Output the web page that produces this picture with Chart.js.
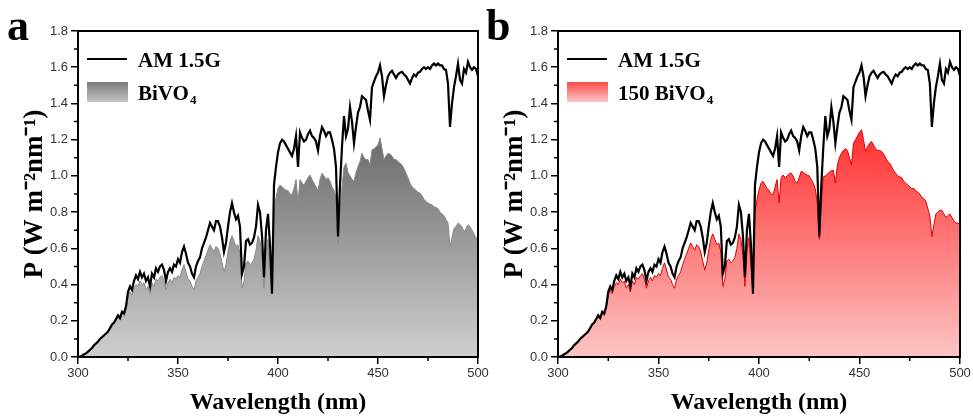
<!DOCTYPE html>
<html lang="en">
  <head>
    <meta charset="UTF-8" />
    <title>AM 1.5G vs BiVO4</title>
    <script src="https://cdn.jsdelivr.net/npm/chart.js"></script>
    <style>
      body { margin: 0; background: #fff; }
      .wrap { position: relative; width: 973px; height: 417px; overflow: hidden; }
      canvas { position: absolute; top: 0; }
      .tag {
        position: absolute;
        font: bold 44px "Liberation Serif", serif;
        color: #000;
        line-height: 1;
      }
    </style>
  </head>
  <body>
    <div class="wrap">
      <canvas id="chartA" width="500" height="417" style="left: 0"></canvas>
      <canvas id="chartB" width="493" height="417" style="left: 480px"></canvas>
      <div class="tag" style="left: 7px; top: 4px">a</div>
      <div class="tag" style="left: 486px; top: 4px">b</div>
    </div>

    <script>
      // wavelength (nm), 1 nm steps
      const wavelength = [];
      for (let w = 300; w <= 500; w++) wavelength.push(w);

      // AM 1.5G spectrum (W m-2 nm-1)
      const am15g = [
        0.00, 0.003, 0.007, 0.015, 0.02, 0.03, 0.04, 0.05, 0.065, 0.075,
        0.086, 0.10, 0.11, 0.12, 0.13, 0.14, 0.16, 0.18, 0.19, 0.21,
        0.23, 0.215, 0.25, 0.24, 0.28, 0.36, 0.39, 0.37, 0.42, 0.45,
        0.43, 0.47, 0.44, 0.46, 0.42, 0.44, 0.39, 0.46, 0.44, 0.49,
        0.47, 0.50, 0.51, 0.48, 0.42, 0.47, 0.49, 0.47, 0.51, 0.50,
        0.54, 0.52, 0.58, 0.61, 0.57, 0.52, 0.50, 0.46, 0.44, 0.50,
        0.53, 0.55, 0.60, 0.63, 0.66, 0.70, 0.74, 0.72, 0.70, 0.75,
        0.75, 0.72, 0.66, 0.58, 0.63, 0.72, 0.80, 0.85, 0.80, 0.76,
        0.78, 0.72, 0.46, 0.50, 0.64, 0.65, 0.62, 0.63, 0.66, 0.72,
        0.84, 0.80, 0.67, 0.44, 0.70, 0.79, 0.62, 0.35, 0.95, 1.05,
        1.13, 1.18, 1.20, 1.19, 1.17, 1.15, 1.13, 1.11, 1.15, 1.22,
        1.05, 1.24, 1.21, 1.19, 1.20, 1.23, 1.25, 1.22, 1.21, 1.19,
        1.14, 1.22, 1.27, 1.25, 1.22, 1.24, 1.24, 1.20, 1.15, 1.05,
        0.665, 0.95, 1.16, 1.33, 1.22, 1.26, 1.38, 1.30, 1.18, 1.27,
        1.35, 1.38, 1.44, 1.43, 1.42, 1.36, 1.31, 1.49, 1.52, 1.55,
        1.57, 1.61, 1.55, 1.44, 1.50, 1.55, 1.57, 1.58, 1.56, 1.54,
        1.56, 1.57, 1.575, 1.56, 1.55, 1.53, 1.51, 1.54, 1.56, 1.55,
        1.57, 1.575, 1.59, 1.60, 1.59, 1.60, 1.59, 1.61, 1.62, 1.61,
        1.62, 1.61, 1.61, 1.59, 1.585, 1.51, 1.27, 1.40, 1.49, 1.55,
        1.62, 1.53, 1.51, 1.59, 1.57, 1.63, 1.60, 1.585, 1.60, 1.59,
        1.55
      ];

      // absorbed by BiVO4 (panel a)
      const bivo4 = [
        0.00, 0.003, 0.007, 0.014, 0.019, 0.028, 0.038, 0.048, 0.062, 0.072,
        0.082, 0.095, 0.105, 0.115, 0.125, 0.135, 0.15, 0.17, 0.18, 0.20,
        0.22, 0.205, 0.235, 0.225, 0.26, 0.33, 0.36, 0.34, 0.38, 0.40,
        0.39, 0.42, 0.40, 0.41, 0.37, 0.39, 0.35, 0.41, 0.39, 0.43,
        0.42, 0.44, 0.45, 0.42, 0.37, 0.41, 0.43, 0.41, 0.44, 0.43,
        0.45, 0.44, 0.48, 0.51, 0.47, 0.43, 0.42, 0.39, 0.37, 0.42,
        0.44, 0.46, 0.50, 0.53, 0.56, 0.59, 0.62, 0.60, 0.58, 0.61,
        0.60, 0.57, 0.52, 0.47, 0.51, 0.58, 0.64, 0.67, 0.64, 0.61,
        0.62, 0.57, 0.38, 0.42, 0.52, 0.53, 0.51, 0.52, 0.54, 0.59,
        0.67, 0.64, 0.55, 0.38, 0.58, 0.65, 0.50, 0.35, 0.80, 0.88,
        0.93, 0.95, 0.94, 0.93, 0.92, 0.92, 0.90, 0.895, 0.93, 0.98,
        0.85, 0.98, 0.96, 0.95, 0.97, 0.99, 1.005, 0.98, 0.96, 0.94,
        0.92, 0.98, 1.015, 1.00, 0.98, 0.99, 0.97, 0.94, 0.92, 0.88,
        0.63, 0.80, 0.94, 1.05, 1.07, 1.02, 1.00, 0.98, 0.97, 1.02,
        1.05, 1.08, 1.125, 1.10, 1.09, 1.09, 1.06, 1.145, 1.15, 1.16,
        1.17, 1.21, 1.15, 1.09, 1.11, 1.125, 1.12, 1.11, 1.09, 1.09,
        1.08, 1.07, 1.06, 1.04, 1.015, 0.99, 0.96, 0.94, 0.93, 0.92,
        0.91, 0.905, 0.89, 0.87, 0.86, 0.85, 0.845, 0.84, 0.83, 0.825,
        0.82, 0.80, 0.79, 0.78, 0.76, 0.74, 0.61, 0.66, 0.71, 0.72,
        0.74, 0.73, 0.72, 0.69, 0.71, 0.73, 0.72, 0.70, 0.68, 0.655,
        0.66
      ];

      // absorbed by 150 BiVO4 (panel b)
      const bivo4_150 = [
        0.00, 0.003, 0.007, 0.015, 0.02, 0.029, 0.039, 0.049, 0.063, 0.073,
        0.084, 0.097, 0.107, 0.117, 0.127, 0.137, 0.155, 0.175, 0.185, 0.205,
        0.225, 0.21, 0.24, 0.23, 0.27, 0.34, 0.37, 0.35, 0.39, 0.41,
        0.40, 0.43, 0.41, 0.42, 0.38, 0.40, 0.36, 0.42, 0.40, 0.44,
        0.43, 0.45, 0.46, 0.43, 0.38, 0.42, 0.44, 0.42, 0.45, 0.44,
        0.46, 0.45, 0.49, 0.52, 0.48, 0.44, 0.43, 0.40, 0.38, 0.43,
        0.45, 0.47, 0.51, 0.54, 0.57, 0.60, 0.63, 0.61, 0.59, 0.62,
        0.61, 0.58, 0.53, 0.48, 0.52, 0.59, 0.65, 0.68, 0.65, 0.62,
        0.63, 0.58, 0.39, 0.43, 0.53, 0.54, 0.52, 0.53, 0.55, 0.60,
        0.68, 0.65, 0.56, 0.39, 0.59, 0.66, 0.51, 0.35, 0.80, 0.87,
        0.92, 0.96, 0.97, 0.95, 0.93, 0.92, 0.90, 0.895, 0.94, 0.98,
        0.85, 0.99, 1.005, 0.99, 1.00, 1.01, 1.015, 1.00, 0.97, 0.96,
        0.99, 1.025, 1.02, 1.01, 1.005, 1.00, 0.98, 0.96, 0.93, 0.85,
        0.65, 0.85, 0.995, 1.00, 1.01, 1.02, 1.03, 1.03, 0.96, 1.06,
        1.10, 1.125, 1.14, 1.15, 1.14, 1.10, 1.06, 1.18, 1.20, 1.22,
        1.24, 1.255, 1.20, 1.135, 1.16, 1.18, 1.19, 1.17, 1.15, 1.14,
        1.14, 1.135, 1.12, 1.10, 1.08, 1.07, 1.05, 1.03, 1.015, 1.00,
        0.995, 0.99, 0.97, 0.96, 0.95, 0.94, 0.93, 0.93, 0.92, 0.91,
        0.90, 0.88, 0.875, 0.86, 0.82, 0.78, 0.665, 0.73, 0.79, 0.80,
        0.81, 0.81, 0.79, 0.77, 0.78, 0.79, 0.77, 0.75, 0.74, 0.74,
        0.73
      ];

      const minorX = [325, 375, 425, 475];
      const minorY = [0.1, 0.3, 0.5, 0.7, 0.9, 1.1, 1.3, 1.5, 1.7];

      const pts = (vals) => wavelength.map((w, i) => ({ x: w, y: vals[i] }));

      // frame, minor ticks and legend
      const framePlugin = {
        id: "frame",
        afterDraw(chart, args, o) {
          const { ctx, chartArea: a, scales } = chart;
          ctx.save();
          ctx.strokeStyle = "#000";
          ctx.lineWidth = 2;
          ctx.strokeRect(a.left, a.top, a.right - a.left, a.bottom - a.top);

          ctx.lineWidth = 1.5;
          ctx.beginPath();
          minorX.forEach((v) => {
            const px = scales.x.getPixelForValue(v);
            ctx.moveTo(px, a.bottom);
            ctx.lineTo(px, a.bottom + 4);
          });
          minorY.forEach((v) => {
            const py = scales.y.getPixelForValue(v);
            ctx.moveTo(a.left, py);
            ctx.lineTo(a.left - 4, py);
          });
          ctx.stroke();

          // legend
          const lx = a.left + 9;
          ctx.lineWidth = 2;
          ctx.beginPath();
          ctx.moveTo(lx, a.top + 28);
          ctx.lineTo(lx + 40, a.top + 28);
          ctx.stroke();

          const g = ctx.createLinearGradient(0, a.top + 51, 0, a.top + 71);
          g.addColorStop(0, o.boxTop);
          g.addColorStop(1, o.boxBottom);
          ctx.fillStyle = g;
          ctx.fillRect(lx, a.top + 51, 41, 20);

          ctx.fillStyle = "#000";
          ctx.textBaseline = "alphabetic";
          ctx.font = 'bold 21px "Liberation Serif", serif';
          ctx.fillText("AM 1.5G", lx + 51, a.top + 36);
          ctx.fillText(o.label, lx + 51, a.top + 69);
          const w = ctx.measureText(o.label).width;
          ctx.font = 'bold 13px "Liberation Serif", serif';
          ctx.fillText("4", lx + 52 + w, a.top + 73);
          ctx.restore();
        },
      };

      function makePanel(id, fillVals, c, rightPad) {
        const fillGradient = (sc) => {
          const chart = sc.chart;
          if (!chart.chartArea) return c.top;
          const y = chart.scales.y;
          const g = chart.ctx.createLinearGradient(0, y.getPixelForValue(1.25), 0, y.getPixelForValue(0));
          g.addColorStop(0, c.top);
          g.addColorStop(1, c.bottom);
          return g;
        };

        new Chart(document.getElementById(id), {
          type: "line",
          data: {
            datasets: [
              {
                label: "AM 1.5G",
                data: pts(am15g),
                borderColor: "#000",
                borderWidth: 2.2,
                pointRadius: 0,
                fill: false,
                tension: 0,
              },
              {
                label: c.label,
                data: pts(fillVals),
                borderColor: c.edge,
                borderWidth: 1,
                pointRadius: 0,
                backgroundColor: fillGradient,
                fill: "origin",
                tension: 0,
              },
            ],
          },
          options: {
            responsive: false,
            animation: false,
            layout: { padding: { top: 31, right: rightPad, left: 0, bottom: 0 } },
            plugins: {
              legend: { display: false },
              tooltip: { enabled: false },
              frame: { boxTop: c.boxTop, boxBottom: c.boxBottom, label: c.label },
            },
            scales: {
              x: {
                type: "linear",
                min: 300,
                max: 500,
                afterFit: (s) => { s.height = 60; },
                ticks: {
                  stepSize: 50,
                  color: "#333",
                  padding: 2,
                  maxRotation: 0,
                  font: { family: "Liberation Sans", size: 13 },
                },
                grid: { drawOnChartArea: false, tickLength: 7, color: "#000", lineWidth: 1.5 },
                border: { color: "#000", width: 2 },
                title: {
                  display: true,
                  text: "Wavelength (nm)",
                  color: "#000",
                  padding: { top: 1, bottom: 0 },
                  font: { family: "Liberation Serif", size: 24, weight: "bold" },
                },
              },
              y: {
                min: 0,
                max: 1.8,
                afterFit: (s) => { s.width = 78; },
                ticks: {
                  stepSize: 0.2,
                  color: "#333",
                  padding: 3,
                  font: { family: "Liberation Sans", size: 13 },
                  callback: (v) => v.toFixed(1),
                },
                grid: { drawOnChartArea: false, tickLength: 7, color: "#000", lineWidth: 1.5 },
                border: { color: "#000", width: 2 },
                title: {
                  display: true,
                  text: "P (W m⁻²nm⁻¹)",
                  color: "#000",
                  padding: { top: 19, bottom: 0 },
                  font: { family: "Liberation Serif", size: 27, weight: "bold" },
                },
              },
            },
          },
          plugins: [framePlugin],
        });
      }

      makePanel("chartA", bivo4, {
        label: "BiVO",
        top: "#686868",
        bottom: "#cfcfcf",
        edge: "#8a8a8a",
        boxTop: "#7a7a7a",
        boxBottom: "#c4c4c4",
      }, 22);

      makePanel("chartB", bivo4_150, {
        label: "150 BiVO",
        top: "#ff3030",
        bottom: "#fcc4c4",
        edge: "#e00000",
        boxTop: "#ff4a4a",
        boxBottom: "#fcc8c8",
      }, 13);
    </script>
  </body>
</html>
